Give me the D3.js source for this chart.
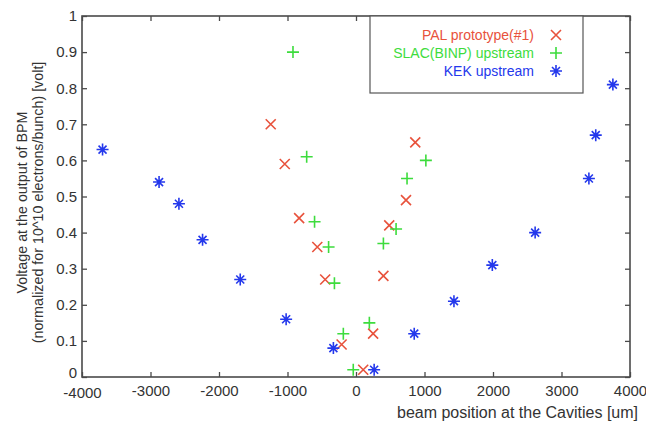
<!DOCTYPE html>
<html>
<head>
<meta charset="utf-8">
<script src="https://cdn.jsdelivr.net/npm/d3@7.9.0/dist/d3.min.js"></script>
<style>
  body { margin: 0; background: #fff; }
  svg { display: block; font-family: "Liberation Sans", Arial, sans-serif; }
</style>
</head>
<body>
<div id="chart"></div>
<script>
// data: [position um, voltage]
const palPrototype = [
  [-1245, 0.70], [-1040, 0.59], [-830, 0.44], [-565, 0.36], [-450, 0.27],
  [-210, 0.09], [105, 0.02], [250, 0.12], [400, 0.28], [485, 0.42],
  [730, 0.49], [865, 0.65]
];
const slacUpstream = [
  [-920, 0.90], [-720, 0.61], [-605, 0.43], [-400, 0.36], [-315, 0.26],
  [-185, 0.12], [-40, 0.02], [195, 0.15], [400, 0.37], [585, 0.41],
  [745, 0.55], [1020, 0.60]
];
const kekUpstream = [
  [-3700, 0.63], [-2875, 0.54], [-2585, 0.48], [-2240, 0.38], [-1690, 0.27],
  [-1020, 0.16], [-330, 0.08], [265, 0.02], [850, 0.12], [1430, 0.21],
  [1990, 0.31], [2615, 0.40], [3400, 0.55], [3500, 0.67], [3750, 0.81]
];
const xTicks = [-4000, -3000, -2000, -1000, 0, 1000, 2000, 3000, 4000];
const yTicks = [0, 0.1, 0.2, 0.3, 0.4, 0.5, 0.6, 0.7, 0.8, 0.9, 1];
const seriesNames = ["PAL prototype(#1)", "SLAC(BINP) upstream", "KEK upstream"];

const width = 646, height = 426;
const margin = { top: 16, right: 16, bottom: 49, left: 82 };
const colors = ["#e8523c", "#3ddc3d", "#2438ec"];
const markers = ["x", "plus", "star"];

const svg = d3.select("#chart").append("svg")
  .attr("width", width).attr("height", height);

const x = d3.scaleLinear().domain([-4000, 4000]).range([margin.left, width - margin.right]);
const y = d3.scaleLinear().domain([0, 1]).range([height - margin.bottom, margin.top]);

const axisColor = "#4a4a4a";
const tickLen = 5;

// bottom/left axes with ticks pointing inward, plain hyphen minus like matlab
const xAxis = svg.append("g")
  .attr("transform", `translate(0,${y(0)})`)
  .call(d3.axisBottom(x).tickValues(xTicks).tickSize(-tickLen).tickPadding(14).tickFormat(d => String(d)));
const yAxis = svg.append("g")
  .attr("transform", `translate(${x(-4000)},0)`)
  .call(d3.axisLeft(y).tickValues(yTicks).tickSize(-tickLen).tickPadding(5)
    .tickFormat(d => String(+d.toFixed(1))));
// top/right ticks
svg.append("g")
  .attr("transform", `translate(0,${y(1)})`)
  .call(d3.axisTop(x).tickValues(xTicks).tickSize(-tickLen).tickFormat(""));
svg.append("g")
  .attr("transform", `translate(${x(4000)},0)`)
  .call(d3.axisRight(y).tickValues(yTicks).tickSize(-tickLen).tickFormat(""));

svg.selectAll(".domain").remove();
svg.selectAll(".tick line").attr("stroke", axisColor).attr("stroke-width", 1.3);
svg.selectAll(".tick text").attr("fill", "#333").attr("font-size", 15);
xAxis.selectAll(".tick text").attr("dy", "0.35em");
// corner "0" nudged up a little so it clears "-4000"
yAxis.selectAll(".tick").filter(d => d === 0).select("text").attr("dy", "0.05em");
xAxis.selectAll(".tick").filter(d => d === -4000).select("text").attr("y", 16);

svg.append("rect")
  .attr("x", x(-4000)).attr("y", y(1))
  .attr("width", x(4000) - x(-4000)).attr("height", y(0) - y(1))
  .attr("fill", "none").attr("stroke", axisColor).attr("stroke-width", 1.6);

// axis labels
svg.append("text")
  .attr("x", 638).attr("y", 412).attr("dy", "0.35em")
  .attr("text-anchor", "end").attr("font-size", 16).attr("fill", "#333")
  .text("beam position at the Cavities [um]");
const yl = svg.append("text")
  .attr("transform", `translate(27,${(y(0) + y(1)) / 2 + 6}) rotate(-90)`)
  .attr("text-anchor", "middle").attr("font-size", 14.3).attr("fill", "#333");
yl.append("tspan").attr("x", 0).attr("dy", 0).text("Voltage at the output of BPM");
yl.append("tspan").attr("x", 0).attr("dy", 16).text("(normalized for 10^10 electrons/bunch) [volt]");

function drawMarker(g, kind, color) {
  const r = 5;
  const p = g.append("path").attr("fill", "none").attr("stroke", color).attr("stroke-width", 1.6);
  if (kind === "x") p.attr("d", `M${-r},${-r}L${r},${r}M${-r},${r}L${r},${-r}`);
  else if (kind === "plus") p.attr("d", `M${-r - 1},0L${r + 1},0M0,${-r - 1}L0,${r + 1}`);
  else {
    const d = r * 0.8;
    p.attr("d", `M${-r - 1},0L${r + 1},0M0,${-r - 1}L0,${r + 1}M${-d},${-d}L${d},${d}M${-d},${d}L${d},${-d}`);
  }
}

[palPrototype, slacUpstream, kekUpstream].forEach((series, i) => {
  svg.append("g").selectAll("g")
    .data(series)
    .join("g")
    .attr("transform", d => `translate(${x(d[0])},${y(d[1])})`)
    .each(function () { drawMarker(d3.select(this), markers[i], colors[i]); });
});

// legend
const legend = svg.append("g");
legend.append("rect")
  .attr("x", 370).attr("y", y(1)).attr("width", 213).attr("height", 77)
  .attr("fill", "#fff").attr("stroke", "#555").attr("stroke-width", 1.2);
seriesNames.forEach((name, i) => {
  const ly = 35 + i * 18;
  legend.append("text")
    .attr("x", 534).attr("y", ly).attr("dy", "0.35em")
    .attr("text-anchor", "end").attr("font-size", 14).attr("fill", colors[i])
    .text(name);
  drawMarker(legend.append("g").attr("transform", `translate(556,${ly})`), markers[i], colors[i]);
});
</script>
</body>
</html>
